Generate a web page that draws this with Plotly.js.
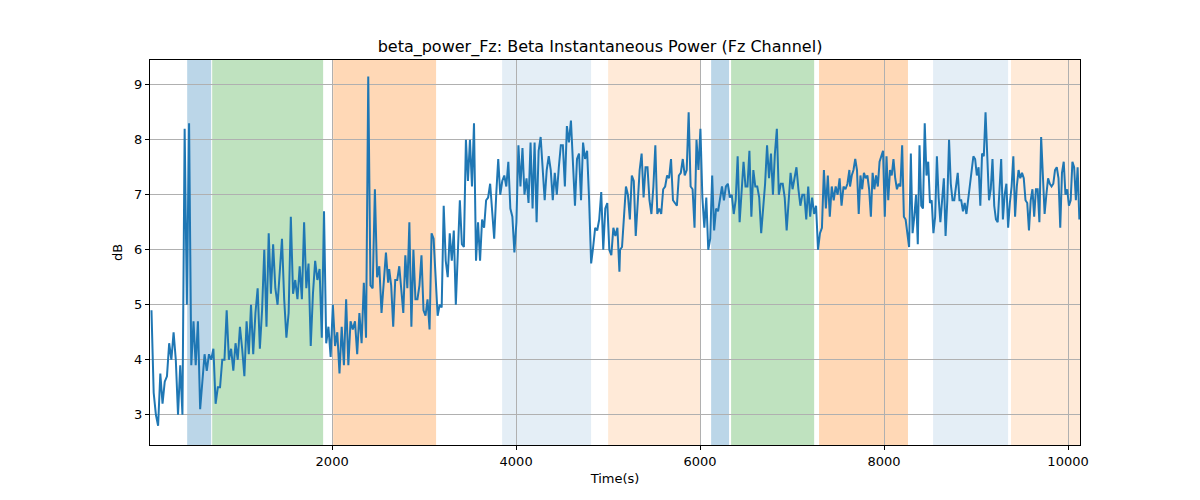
<!DOCTYPE html>
<html>
<head>
<meta charset="utf-8">
<script src="https://cdn.plot.ly/plotly-3.0.1.min.js"></script>
<style>body{margin:0;background:#fff}#chart{width:1200px;height:500px}</style>
</head>
<body>
<div id="chart"></div>
<script>
// power readings per stretch of the recording (dB), evenly spaced within each stretch
const seg1Span = [36, 2609];
const seg1 = [4.9,3.4,3.0,2.8,3.75,3.2,3.6,3.7,4.3,4.0,4.5,4.0,3.0,3.9,3.0,8.2,5.0,8.3,3.9,4.7,3.9,4.7,3.1,3.6,4.1,3.8,4.1,4.0,4.2,3.2,3.5,3.5,4.0,4.0,4.9,4.0,4.2,3.8,4.3,4.0,4.6,4.2,3.7,4.7,4.1,5.0,4.1,4.85,5.3,4.2,4.9,6.0,4.6,6.3,5.2,6.1,5.3,5.0,5.7,6.2,5.1,4.4,4.85,6.6,5.2,5.45,5.1,5.7,5.1,6.5,5.3,5.75,4.25,5.2,5.8,5.45,5.65,4.4,6.7,4.3,4.6,4.05,5.0,4.25,4.5,3.75,4.6,3.9,5.1,3.9,4.7,4.55,4.7,4.1,4.85,4.3,5.4,4.4,9.15,5.35,5.3,7.1,5.5,5.7,4.85,5.45,5.95,5.4];
const seg2Span = [2620, 5123];
const seg2 = [5.65,5.35,4.6,5.45,5.45,5.7,5.25,4.85,5.9,5.3,6.5,4.6,6.0,5.1,5.1,5.35,5.9,4.9,4.8,5.1,4.55,6.3,6.2,5.45,4.8,5.0,4.95,6.8,5.8,5.5,6.3,5.8,6.35,5.0,5.9,6.9,6.1,6.05,8.0,7.25,8.0,7.15,8.3,5.8,6.5,5.8,6.55,6.4,6.9,6.95,7.2,6.6,6.2,7.0,7.65,7.0,7.25,7.35,7.15,7.6,6.75,6.6,5.95,6.5,7.9,7.15,7.85,7.0,7.3,6.85,7.95,6.75,7.95,6.5,7.8,8.05,7.45,6.9,7.45,7.7,7.45,6.9,7.4,7.0,7.5,7.9,7.9,7.15,8.25,7.95,8.35,7.5,6.8,7.65,7.75,6.9,7.95,7.65,7.8,6.9,5.75,6.05,6.4,6.35,6.55,7.05,6.0,6.75,6.85,6.0,5.9,6.4,6.25,6.4,5.6];
const seg3Span = [5130, 7623];
const seg3 = [6.0,6.05,6.6,7.15,7.0,6.55,7.35,7.25,6.25,6.85,7.45,7.75,6.95,7.5,7.5,6.9,6.65,7.15,7.9,6.65,6.75,6.65,7.1,7.15,7.35,7.3,7.65,6.9,6.85,6.8,7.35,7.4,7.65,7.35,7.45,8.5,7.15,7.1,6.4,8.0,7.45,8.2,6.95,6.4,6.95,6.0,6.2,7.35,6.35,6.75,6.7,6.95,7.15,6.9,7.15,7.2,6.95,7.0,6.65,6.9,7.7,6.5,7.0,7.6,7.15,7.15,7.8,6.6,7.45,7.15,7.15,6.95,6.3,6.75,7.2,7.9,7.3,7.75,7.0,7.75,8.2,7.0,7.2,7.2,6.95,6.35,6.8,7.4,7.1,7.3,7.5,7.1,6.8,7.0,7.0,6.55,7.15,6.6,6.95,6.65,6.8,6.0,6.3,6.4,7.45,6.75,7.35,6.6,7.15,6.9,7.15,7.0,7.3,6.8,7.15,7.1,7.2,7.45];
const seg4Span = [7630, 10123];
const seg4 = [7.15,7.35,7.45,7.65,7.45,6.65,7.35,7.1,7.4,7.3,7.35,7.1,6.6,7.4,7.1,7.35,7.15,7.6,7.7,7.8,6.6,7.7,6.9,7.45,7.35,7.65,7.3,7.1,7.2,7.15,7.9,6.6,6.55,6.3,6.05,7.75,6.3,6.6,7.0,6.1,7.9,6.8,6.75,8.3,7.35,7.6,6.85,6.9,6.3,6.6,7.7,6.95,6.5,6.9,7.3,6.25,6.9,8.0,7.2,6.9,6.9,7.15,7.4,6.9,6.9,6.7,6.85,6.65,6.9,7.15,7.5,7.7,7.65,7.35,7.5,6.8,7.75,7.7,8.5,7.8,6.9,7.1,7.65,6.8,6.55,6.5,7.0,7.65,6.55,7.0,7.2,6.4,6.85,7.15,7.7,6.6,7.15,7.45,7.3,7.4,7.3,6.9,6.85,6.35,6.9,7.1,6.6,7.1,7.1,6.5,8.05,7.2,6.65,7.0,7.3,7.2,7.15,7.2,7.45,7.5,7.3,6.4,7.4,7.6,7.0,7.1,6.8,6.9,7.6,7.5,6.9,7.5,6.55];

// shaded task blocks: [start, end, colour, opacity]
const bandStarts = [424, 696, 2011, 3848, 5000, 6120, 6337, 7293, 8533, 9380];
const bandEnds   = [685, 1902, 3130, 4815, 6010, 6315, 7240, 8260, 9348, 10130];
const bandColors = ['#1f77b4','#2ca02c','#ff7f0e','#1f77b4','#ff7f0e','#1f77b4','#2ca02c','#ff7f0e','#1f77b4','#ff7f0e'];
const bandAlpha  = [0.3, 0.3, 0.3, 0.12, 0.16, 0.3, 0.3, 0.3, 0.12, 0.16];

const xTicks = [2000, 4000, 6000, 8000, 10000];
const yTicks = [3, 4, 5, 6, 7, 8, 9];

function spread(span, vals) {
    const n = vals.length;
    return vals.map((_, i) => span[0] + (span[1] - span[0]) * i / (n - 1));
}

const xs = [].concat(spread(seg1Span, seg1), spread(seg2Span, seg2), spread(seg3Span, seg3), spread(seg4Span, seg4));
const ys = [].concat(seg1, seg2, seg3, seg4);

const shapes = bandStarts.map((s, i) => ({
    type: 'rect', xref: 'x', yref: 'paper', x0: s, x1: bandEnds[i], y0: 0, y1: 1,
    fillcolor: bandColors[i], opacity: bandAlpha[i], line: { width: 0 }, layer: 'below'
}));

const font = { family: 'DejaVu Sans, sans-serif', size: 13, color: '#000' };

Plotly.newPlot('chart', [{
    x: xs, y: ys, mode: 'lines', type: 'scatter',
    line: { color: '#1f77b4', width: 2 }
}], {
    width: 1200, height: 500,
    margin: { l: 150, r: 120, t: 60, b: 55 },
    paper_bgcolor: '#fff', plot_bgcolor: 'rgba(0,0,0,0)',
    font: font,
    showlegend: false,
    title: { text: 'beta_power_Fz: Beta Instantaneous Power (Fz Channel)', font: { family: font.family, size: 16, color: '#000' },
             x: 0.5, xanchor: 'center', yref: 'container', y: 0.908, yanchor: 'middle' },
    xaxis: {
        title: { text: 'Time(s)', font: font, standoff: 6 },
        range: [20, 10130], tickvals: xTicks, ticktext: xTicks.map(String),
        showgrid: true, gridcolor: '#b0b0b0', zeroline: false,
        showline: true, linecolor: '#000', mirror: true,
        ticks: 'outside', ticklen: 4, tickcolor: '#000'
    },
    yaxis: {
        title: { text: 'dB', font: font, standoff: 8 },
        range: [2.45, 9.45], tickvals: yTicks,
        showgrid: true, gridcolor: '#b0b0b0', zeroline: false,
        showline: true, linecolor: '#000', mirror: true,
        ticks: 'outside', ticklen: 4, tickcolor: '#000'
    },
    shapes: shapes
}, { displayModeBar: false });
</script>
</body>
</html>
